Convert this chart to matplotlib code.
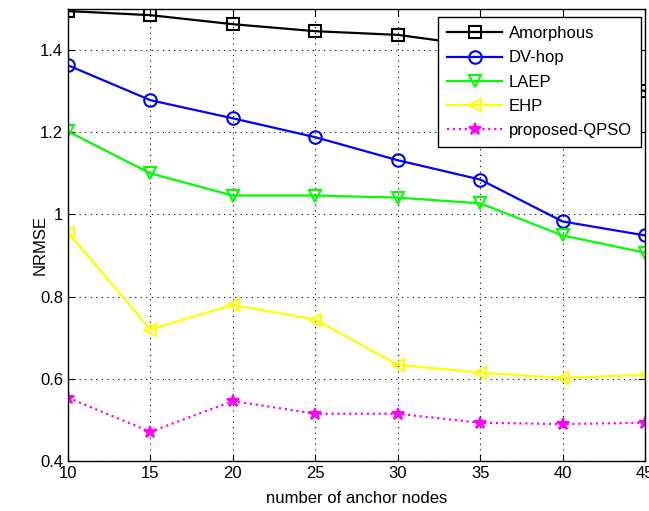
import matplotlib
matplotlib.use("Agg")
import matplotlib.pyplot as plt

anchors = [10, 15, 20, 25, 30, 35, 40, 45]
amorphous = [1.495, 1.485, 1.463, 1.446, 1.437, 1.41, 1.36, 1.30]
dv_hop = [1.363, 1.278, 1.234, 1.188, 1.132, 1.085, 0.983, 0.949]
laep = [1.202, 1.100, 1.046, 1.046, 1.041, 1.027, 0.949, 0.907]
ehp = [0.956, 0.720, 0.780, 0.744, 0.634, 0.615, 0.602, 0.610]
qpso = [0.554, 0.471, 0.546, 0.515, 0.515, 0.493, 0.490, 0.493]
xticks = [10, 15, 20, 25, 30, 35, 40, 45]
yticks = [0.4, 0.6, 0.8, 1.0, 1.2, 1.4]
ytick_labels = ["0.4", "0.6", "0.8", "1", "1.2", "1.4"]

plt.rcParams['font.family'] = ['Liberation Sans', 'DejaVu Sans']
fig = plt.figure(figsize=(6.49, 5.11), dpi=100)
ax = fig.add_axes([68/649, 50/511, (645-68)/649, (461-9)/511])

lw = 1.6
ax.plot(anchors, amorphous, color='black', marker='s', mfc='none', ms=8, mew=1.5, lw=lw, label='Amorphous')
ax.plot(anchors, dv_hop, color='blue', marker='o', mfc='none', ms=9, mew=1.5, lw=lw, label='DV-hop')
ax.plot(anchors, laep, color='#00ff00', marker='v', mfc='none', ms=9, mew=1.5, lw=lw, label='LAEP')
ax.plot(anchors, ehp, color='yellow', marker='<', mfc='none', ms=9, mew=1.5, lw=lw, label='EHP')
ax.plot(anchors, qpso, color='magenta', marker='*', ms=9, mew=1.5, lw=lw, ls=':', label='proposed-QPSO')

ax.set_xlim(10, 45)
ax.set_ylim(0.4, 1.5)
ax.set_xticks(xticks)
ax.set_yticks(yticks)
ax.set_yticklabels(ytick_labels)
ax.tick_params(direction='in', top=True, right=True, labelsize=12, length=5)
ax.grid(True, color='black', linestyle=(0, (1, 4)), linewidth=0.8)
for s in ax.spines.values():
    s.set_linewidth(1.0)
ax.set_xlabel('number of anchor nodes', fontsize=12, labelpad=7)
ax.set_ylabel('NRMSE', fontsize=12)
ax.yaxis.set_label_coords(-0.036, 0.478)

leg = ax.legend(loc='upper right', fontsize=12, fancybox=False, framealpha=1,
                edgecolor='black', handlelength=3.3, handletextpad=0.4,
                borderpad=0.55, labelspacing=0.55, borderaxespad=0,
                bbox_to_anchor=(0.993, 0.982))
leg.get_frame().set_linewidth(1.0)

fig.savefig('out.png', dpi=100)
